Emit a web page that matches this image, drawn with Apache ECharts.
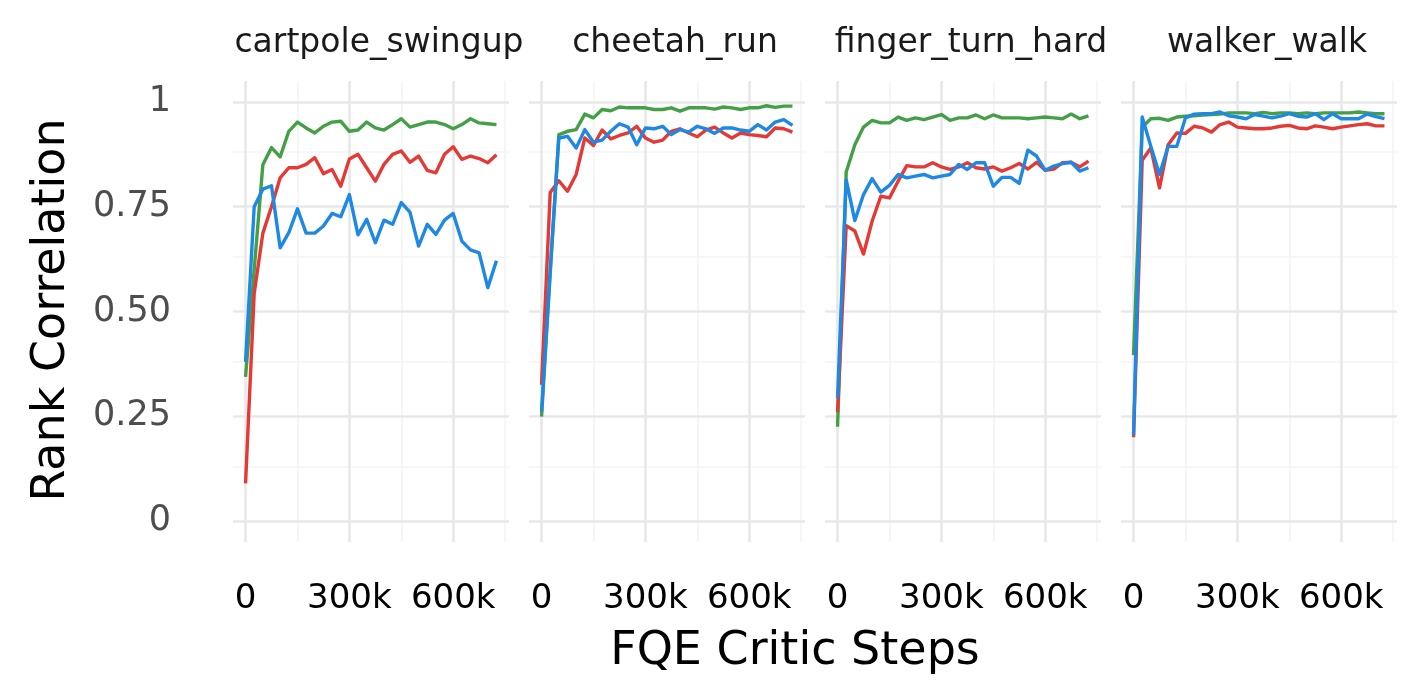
<!DOCTYPE html>
<html>
<head>
<meta charset="utf-8">
<script src="https://cdn.jsdelivr.net/npm/echarts@6/dist/echarts.min.js"></script>
<style>
html,body{margin:0;padding:0;background:#fff;}
#chart{width:1428px;height:689px;}
</style>
</head>
<body>
<div id="chart"></div>
<script>
// ---------- data ----------
const steps = [0,25000,50000,75000,100000,125000,150000,175000,200000,225000,
  250000,275000,300000,325000,350000,375000,400000,425000,450000,475000,
  500000,525000,550000,575000,600000,625000,650000,675000,700000,725000];

const tasks = ['cartpole_swingup','cheetah_run','finger_turn_hard','walker_walk'];

const xTickValues = [0, 300000, 600000];
const xTickLabels = ['0', '300k', '600k'];
const yTickValues = [0, 0.25, 0.5, 0.75, 1];
const yTickLabels = ['0', '0.25', '0.50', '0.75', '1'];

const cartpoleGreen = [0.344,0.60,0.850,0.891,0.869,0.930,0.952,0.938,0.926,0.942,
  0.952,0.954,0.930,0.933,0.952,0.938,0.933,0.946,0.960,0.940,
  0.946,0.952,0.952,0.946,0.936,0.946,0.960,0.950,0.948,0.946];
const cartpoleRed = [0.09,0.543,0.687,0.750,0.819,0.843,0.843,0.851,0.867,0.829,
  0.839,0.799,0.864,0.875,0.843,0.811,0.851,0.875,0.883,0.856,
  0.871,0.837,0.831,0.875,0.893,0.863,0.871,0.865,0.855,0.874];
const cartpoleBlue = [0.380,0.750,0.792,0.800,0.652,0.688,0.745,0.687,0.687,0.704,
  0.734,0.726,0.779,0.683,0.720,0.664,0.718,0.708,0.760,0.737,
  0.656,0.708,0.684,0.718,0.734,0.668,0.647,0.640,0.557,0.621];

const cheetahGreen = [0.249,0.59,0.922,0.930,0.934,0.971,0.962,0.982,0.979,0.988,
  0.986,0.986,0.986,0.982,0.982,0.986,0.978,0.986,0.986,0.986,
  0.983,0.988,0.986,0.982,0.986,0.986,0.991,0.987,0.990,0.990];
const cheetahRed = [0.325,0.784,0.812,0.787,0.827,0.914,0.896,0.933,0.912,0.920,
  0.926,0.942,0.914,0.904,0.909,0.930,0.936,0.926,0.917,0.933,
  0.940,0.926,0.914,0.926,0.922,0.920,0.917,0.938,0.936,0.928];
const cheetahBlue = [0.261,0.60,0.914,0.918,0.890,0.934,0.904,0.909,0.930,0.948,
  0.940,0.898,0.938,0.936,0.942,0.922,0.934,0.928,0.942,0.936,
  0.925,0.938,0.938,0.933,0.930,0.946,0.933,0.952,0.958,0.944];

const fingerGreen = [0.225,0.833,0.898,0.940,0.956,0.950,0.950,0.964,0.956,0.962,
  0.958,0.964,0.970,0.956,0.962,0.962,0.969,0.960,0.969,0.962,
  0.962,0.962,0.960,0.962,0.964,0.962,0.960,0.971,0.960,0.967];
const fingerRed = [0.26,0.705,0.692,0.637,0.716,0.775,0.771,0.811,0.848,0.845,
  0.845,0.855,0.845,0.839,0.845,0.855,0.843,0.840,0.845,0.835,
  0.843,0.853,0.840,0.856,0.837,0.840,0.855,0.856,0.845,0.859];
const fingerBlue = [0.293,0.814,0.717,0.779,0.817,0.785,0.801,0.827,0.819,0.823,
  0.827,0.819,0.823,0.827,0.851,0.839,0.855,0.855,0.799,0.820,
  0.820,0.806,0.885,0.871,0.837,0.847,0.853,0.856,0.835,0.843];

const walkerGreen = [0.396,0.94,0.960,0.961,0.956,0.964,0.966,0.967,0.969,0.970,
  0.971,0.974,0.974,0.974,0.972,0.975,0.972,0.974,0.974,0.972,
  0.974,0.972,0.974,0.974,0.974,0.974,0.976,0.974,0.972,0.972];
const walkerRed = [0.200,0.861,0.890,0.795,0.898,0.926,0.925,0.942,0.938,0.928,
  0.946,0.952,0.940,0.938,0.936,0.936,0.938,0.942,0.944,0.938,
  0.936,0.943,0.940,0.936,0.940,0.943,0.946,0.948,0.943,0.943];
const walkerBlue = [0.205,0.964,0.894,0.827,0.894,0.894,0.962,0.971,0.972,0.972,
  0.976,0.967,0.964,0.960,0.970,0.966,0.962,0.966,0.972,0.966,
  0.964,0.972,0.958,0.972,0.960,0.960,0.960,0.971,0.965,0.960];

const seriesByTask = [
  [cartpoleGreen, cartpoleRed, cartpoleBlue],
  [cheetahGreen, cheetahRed, cheetahBlue],
  [fingerGreen, fingerRed, fingerBlue],
  [walkerGreen, walkerRed, walkerBlue]
];
const seriesNames = ['green', 'red', 'blue'];
const seriesColors = ['#43A047', '#E53935', '#1E88E5'];

// ---------- layout ----------
const panelLefts = [233, 529, 825, 1121];
const panelWidth = 276;
const panelTop = 81;
const panelHeight = 461;
const xMin = -36250, xMax = 761250;
const yMin = -0.05, yMax = 1.05;
const xMajor = [0, 300000, 600000];
const xMinor = [150000, 450000, 750000];
const yMajor = [0, 0.25, 0.5, 0.75, 1];
const yMinor = [0.125, 0.375, 0.625, 0.875];

const grids = [], xAxes = [], yAxes = [], series = [];
tasks.forEach((t, k) => {
  grids.push({left: panelLefts[k], top: panelTop, width: panelWidth, height: panelHeight, containLabel: false});
  xAxes.push({
    type: 'value', gridIndex: k, min: xMin, max: xMax,
    axisLine: {show: false}, axisTick: {show: false}, splitLine: {show: false},
    axisLabel: {
      show: true, customValues: xTickValues, margin: 40,
      color: '#000', fontSize: 34, fontFamily: 'DejaVu Sans',
      formatter: v => { const i = xTickValues.indexOf(v); return i >= 0 ? xTickLabels[i] : ''; }
    }
  });
  yAxes.push({
    type: 'value', gridIndex: k, min: yMin, max: yMax,
    axisLine: {show: false}, axisTick: {show: false}, splitLine: {show: false},
    axisLabel: {
      show: k === 0, customValues: yTickValues, margin: 62,
      color: '#4D4D4D', fontSize: 35, fontFamily: 'DejaVu Sans',
      formatter: v => {
        let best = 0;
        yTickValues.forEach((tv, i) => { if (Math.abs(tv - v) < Math.abs(yTickValues[best] - v)) best = i; });
        return yTickLabels[best];
      }
    }
  });
  // grid lines through axis scales
  const ml = [];
  xMinor.forEach(v => ml.push({xAxis: v, lineStyle: {color: '#F4F4F4', width: 1.6, type: 'solid'}}));
  yMinor.forEach(v => ml.push({yAxis: v, lineStyle: {color: '#F4F4F4', width: 1.6, type: 'solid'}}));
  xMajor.forEach(v => ml.push({xAxis: v, lineStyle: {color: '#E8E8E8', width: 2.6, type: 'solid'}}));
  yMajor.forEach(v => ml.push({yAxis: v, lineStyle: {color: '#E8E8E8', width: 2.6, type: 'solid'}}));
  series.push({
    type: 'line', xAxisIndex: k, yAxisIndex: k, data: [], z: 1, silent: true,
    markLine: {z: 1, silent: true, symbol: ['none', 'none'], label: {show: false}, animation: false, data: ml}
  });
  seriesByTask[k].forEach((arr, j) => {
    series.push({
      name: seriesNames[j], type: 'line', xAxisIndex: k, yAxisIndex: k, z: 10 + j,
      showSymbol: false, symbol: 'none', smooth: false, sampling: null,
      itemStyle: {color: seriesColors[j]},
      lineStyle: {color: seriesColors[j], width: 3.4, join: 'round', opacity: 1},
      emphasis: {disabled: true},
      data: steps.map((s, i) => [s, arr[i]])
    });
  });
});

const graphics = [];
const stripCenters = panelLefts.map(l => l + panelWidth / 2 + 8);
tasks.forEach((t, k) => {
  graphics.push({type: 'text', style: {
    text: t, x: stripCenters[k], y: 43, align: 'center', verticalAlign: 'middle',
    fill: '#1A1A1A', font: '33px "DejaVu Sans"'}});
});
graphics.push({type: 'text', style: {text: 'FQE Critic Steps', x: 795, y: 652,
  align: 'center', verticalAlign: 'middle', fill: '#000', font: '46px "DejaVu Sans"'}});
graphics.push({type: 'text', rotation: Math.PI / 2, x: 52, y: 310, style: {text: 'Rank Correlation', x: 0, y: 0,
  align: 'center', verticalAlign: 'middle', fill: '#000', font: '46px "DejaVu Sans"'}});

const chart = echarts.init(document.getElementById('chart'), null, {renderer: 'canvas'});
chart.setOption({
  animation: false,
  backgroundColor: '#fff',
  grid: grids, xAxis: xAxes, yAxis: yAxes, series: series,
  graphic: graphics
});
</script>
</body>
</html>
